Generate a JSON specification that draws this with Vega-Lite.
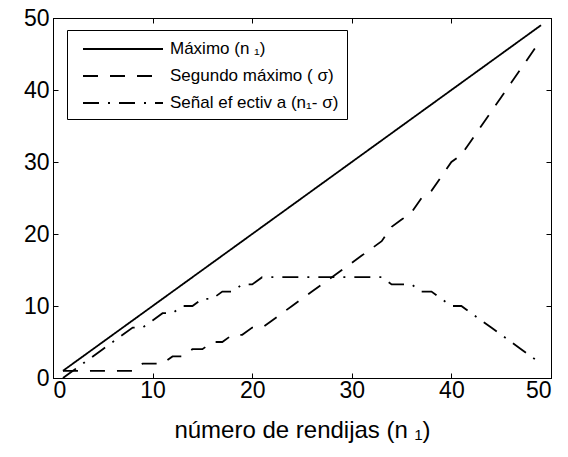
{
  "$schema": "https://vega.github.io/schema/vega-lite/v6.json",
  "autosize": "none",
  "width": 498,
  "height": 360,
  "padding": {"left": 53, "top": 18, "right": 17, "bottom": 79},
  "background": "white",
  "config": {
    "view": {"stroke": "black", "strokeWidth": 1},
    "font": "Liberation Sans",
    "axis": {
      "grid": false,
      "domainColor": "black",
      "domainWidth": 1,
      "tickColor": "black",
      "tickWidth": 1,
      "tickSize": -5,
      "labelColor": "black",
      "titleColor": "black",
      "labelFontSize": 23,
      "titleFontSize": 24,
      "titleFontWeight": "normal",
      "labelFont": "Liberation Sans",
      "titleFont": "Liberation Sans"
    },
    "legend": {
      "orient": "none",
      "legendX": 14,
      "legendY": 12,
      "direction": "vertical",
      "strokeColor": "black",
      "fillColor": "white",
      "padding": 8,
      "symbolType": "M-0.3,0H7.7",
      "symbolSize": 400,
      "symbolStrokeWidth": 1.8,
      "symbolStrokeColor": "black",
      "labelFontSize": 17,
      "labelFont": "Liberation Sans",
      "labelColor": "black",
      "labelOffset": 73,
      "labelLimit": 400,
      "rowPadding": 8
    }
  },
  "data": {
    "values": [
      {"n": 1, "maximo": 1, "segundo": 1, "senal": 0},
      {"n": 2, "maximo": 2, "segundo": 1, "senal": 1},
      {"n": 3, "maximo": 3, "segundo": 1, "senal": 2},
      {"n": 4, "maximo": 4, "segundo": 1, "senal": 3},
      {"n": 5, "maximo": 5, "segundo": 1, "senal": 4},
      {"n": 6, "maximo": 6, "segundo": 1, "senal": 5},
      {"n": 7, "maximo": 7, "segundo": 1, "senal": 6},
      {"n": 8, "maximo": 8, "segundo": 1, "senal": 7},
      {"n": 9, "maximo": 9, "segundo": 2, "senal": 7},
      {"n": 10, "maximo": 10, "segundo": 2, "senal": 8},
      {"n": 11, "maximo": 11, "segundo": 2, "senal": 9},
      {"n": 12, "maximo": 12, "segundo": 3, "senal": 9},
      {"n": 13, "maximo": 13, "segundo": 3, "senal": 10},
      {"n": 14, "maximo": 14, "segundo": 4, "senal": 10},
      {"n": 15, "maximo": 15, "segundo": 4, "senal": 11},
      {"n": 16, "maximo": 16, "segundo": 5, "senal": 11},
      {"n": 17, "maximo": 17, "segundo": 5, "senal": 12},
      {"n": 18, "maximo": 18, "segundo": 6, "senal": 12},
      {"n": 19, "maximo": 19, "segundo": 6, "senal": 13},
      {"n": 20, "maximo": 20, "segundo": 7, "senal": 13},
      {"n": 21, "maximo": 21, "segundo": 7, "senal": 14},
      {"n": 22, "maximo": 22, "segundo": 8, "senal": 14},
      {"n": 23, "maximo": 23, "segundo": 9, "senal": 14},
      {"n": 24, "maximo": 24, "segundo": 10, "senal": 14},
      {"n": 25, "maximo": 25, "segundo": 11, "senal": 14},
      {"n": 26, "maximo": 26, "segundo": 12, "senal": 14},
      {"n": 27, "maximo": 27, "segundo": 13, "senal": 14},
      {"n": 28, "maximo": 28, "segundo": 14, "senal": 14},
      {"n": 29, "maximo": 29, "segundo": 15, "senal": 14},
      {"n": 30, "maximo": 30, "segundo": 16, "senal": 14},
      {"n": 31, "maximo": 31, "segundo": 17, "senal": 14},
      {"n": 32, "maximo": 32, "segundo": 18, "senal": 14},
      {"n": 33, "maximo": 33, "segundo": 19, "senal": 14},
      {"n": 34, "maximo": 34, "segundo": 21, "senal": 13},
      {"n": 35, "maximo": 35, "segundo": 22, "senal": 13},
      {"n": 36, "maximo": 36, "segundo": 23, "senal": 13},
      {"n": 37, "maximo": 37, "segundo": 25, "senal": 12},
      {"n": 38, "maximo": 38, "segundo": 26, "senal": 12},
      {"n": 39, "maximo": 39, "segundo": 28, "senal": 11},
      {"n": 40, "maximo": 40, "segundo": 30, "senal": 10},
      {"n": 41, "maximo": 41, "segundo": 31, "senal": 10},
      {"n": 42, "maximo": 42, "segundo": 33, "senal": 9},
      {"n": 43, "maximo": 43, "segundo": 35, "senal": 8},
      {"n": 44, "maximo": 44, "segundo": 37, "senal": 7},
      {"n": 45, "maximo": 45, "segundo": 39, "senal": 6},
      {"n": 46, "maximo": 46, "segundo": 41, "senal": 5},
      {"n": 47, "maximo": 47, "segundo": 43, "senal": 4},
      {"n": 48, "maximo": 48, "segundo": 45, "senal": 3},
      {"n": 49, "maximo": 49, "segundo": 47, "senal": 2}
    ]
  },
  "transform": [{"fold": ["maximo", "segundo", "senal"], "as": ["serie", "valor"]}],
  "layer": [
    {
      "mark": {"type": "line", "color": "black", "strokeWidth": 1.8},
      "encoding": {
        "x": {
          "field": "n",
          "type": "quantitative",
          "scale": {"domain": [0, 50], "nice": false},
          "axis": {
            "orient": "bottom",
            "values": [0, 10, 20, 30, 40, 50],
            "title": "número de rendijas (n  ₁)",
            "labelPadding": 6,
            "titlePadding": 16
          }
        },
        "y": {
          "field": "valor",
          "type": "quantitative",
          "scale": {"domain": [0, 50], "nice": false},
          "axis": {
            "orient": "left",
            "values": [0, 10, 20, 30, 40, 50],
            "title": null,
            "labelPadding": 9
          }
        },
        "strokeDash": {
          "field": "serie",
          "type": "nominal",
          "scale": {
            "domain": ["maximo", "segundo", "senal"],
            "range": [[1, 0], [15, 12], [16, 9, 2, 9]]
          },
          "legend": {
            "title": null,
            "labelExpr": "datum.value == 'maximo' ? 'Máximo (n ₁)' : datum.value == 'segundo' ? 'Segundo máximo ( σ)' : 'Señal ef ectiv a (n₁- σ)'"
          }
        }
      }
    },
    {
      "mark": {"type": "line", "strokeOpacity": 0},
      "encoding": {
        "x": {
          "field": "n",
          "type": "quantitative",
          "axis": {"orient": "top", "values": [0, 10, 20, 30, 40, 50], "labels": false, "title": null}
        },
        "y": {
          "field": "valor",
          "type": "quantitative",
          "axis": {"orient": "right", "values": [0, 10, 20, 30, 40, 50], "labels": false, "title": null}
        },
        "detail": {"field": "serie", "type": "nominal"}
      }
    }
  ],
  "resolve": {"axis": {"x": "independent", "y": "independent"}}
}
